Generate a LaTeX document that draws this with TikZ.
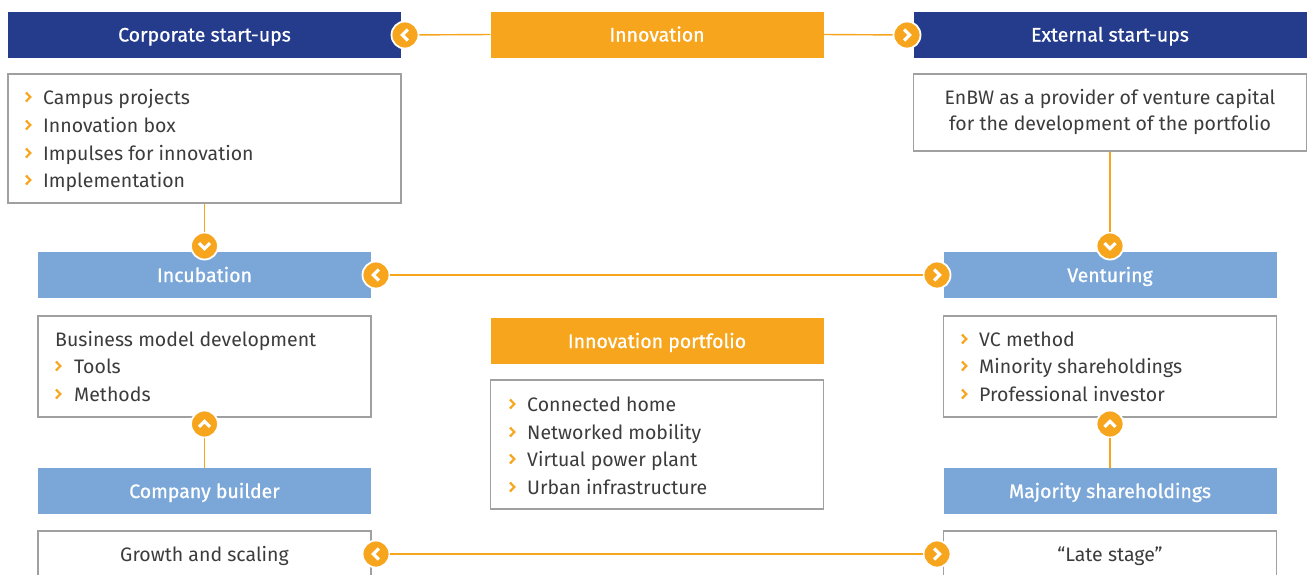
\documentclass[tikz,border=0pt]{standalone}
\usepackage{fontspec}
\setmainfont{Fira Sans}
\newfontfamily\hdrfont[FakeBold=0.8]{Fira Sans}
\definecolor{navy}{HTML}{253C8C}
\definecolor{orng}{HTML}{F7A51C}
\definecolor{lblue}{HTML}{7BA7D8}
\definecolor{txt}{HTML}{3C3C3C}
\definecolor{bord}{HTML}{A0A0A0}
\begin{document}
\begin{tikzpicture}[x=1pt,y=-1pt,
  hdr/.style={minimum height=46pt, inner sep=0pt, text=white, text height=14pt, text depth=0pt,
    font=\hdrfont\fontsize{19.5}{22}\selectfont},
  bx/.style={draw=bord, line width=1.3pt, fill=white, inner sep=0pt},
  itm/.style={anchor=base west, inner sep=0pt, text=txt, font=\fontsize{19.5}{22}\selectfont},
  mk/.style={circle, fill=orng, draw=white, line width=1.8pt, minimum size=27pt, inner sep=0pt},
  conn/.style={orng, line width=1.4pt},
  chv/.pic={\draw[orng, line width=2.2pt] (-2,-4.5)--(2.3,0)--(-2,4.5);},
  la/.pic={\draw[white, line width=3.2pt] (2.8,-5.5)--(-2.6,0)--(2.8,5.5);},
  ra/.pic={\draw[white, line width=3.2pt] (-2.8,-5.5)--(2.6,0)--(-2.8,5.5);},
  da/.pic={\draw[white, line width=3.2pt] (-5.5,-2.8)--(0,2.6)--(5.5,-2.8);},
  ua/.pic={\draw[white, line width=3.2pt] (-5.5,2.8)--(0,-2.6)--(5.5,2.8);}
]
\clip (0,0) rectangle (1311,574);
\fill[white] (0,0) rectangle (1311,574);

% top headers
\node[hdr, fill=navy, minimum width=393pt] (cs) at (204.5,34.5) {Corporate start-ups};
\node[hdr, fill=orng, minimum width=333pt] (inn) at (657,34.5) {Innovation};
\node[hdr, fill=navy, minimum width=393pt] (es) at (1110,34.5) {External start-ups};

% top boxes
\node[bx, minimum width=393pt, minimum height=77pt] (csb) at (204.5,138.5) [minimum height=129pt] {};
\node[bx, minimum width=393pt, minimum height=77pt] (esb) at (1110,112.5) {};
\node[anchor=center, inner sep=0pt, text=txt, align=center, font=\fontsize{19.5}{26}\selectfont] (est) at (1110,111.5)
  {EnBW as a provider of venture capital\\for the development of the portfolio};

\pic at (28,97) {chv};
\node[itm] (c1) at (43,104.5) {Campus projects};
\pic at (28,125) {chv};
\node[itm] (c2) at (43,132.5) {Innovation box};
\pic at (28,153) {chv};
\node[itm] (c3) at (43,160.5) {Impulses for innovation};
\pic at (28,180) {chv};
\node[itm] (c4) at (43,187.5) {Implementation};

% middle headers
\node[hdr, fill=lblue, minimum width=333pt] (inc) at (204.5,275) {Incubation};
\node[hdr, fill=lblue, minimum width=333pt] (ven) at (1110,275) {Venturing};

% middle boxes
\node[bx, minimum width=333pt, minimum height=101pt] (incb) at (204.5,366.5) {};
\node[itm] (i1) at (55,346.5) {Business model development};
\pic at (58,366) {chv};
\node[itm] (i2) at (74,373.5) {Tools};
\pic at (58,394) {chv};
\node[itm] (i3) at (74,401.5) {Methods};

\node[bx, minimum width=333pt, minimum height=101pt] (venb) at (1110,366.5) {};
\pic at (964,339) {chv};
\node[itm] (v1) at (979,346.5) {VC method};
\pic at (964,366) {chv};
\node[itm] (v2) at (979,373.5) {Minority shareholdings};
\pic at (964,394) {chv};
\node[itm] (v3) at (979,401.5) {Professional investor};

% innovation portfolio
\node[hdr, fill=orng, minimum width=333pt] (ip) at (657,341) {Innovation portfolio};
\node[bx, minimum width=333pt, minimum height=129pt] (ipb) at (657,444.5) {};
\pic at (512,404) {chv};
\node[itm] (p1) at (527,411.5) {Connected home};
\pic at (512,432) {chv};
\node[itm] (p2) at (527,439.5) {Networked mobility};
\pic at (512,459) {chv};
\node[itm] (p3) at (527,466.5) {Virtual power plant};
\pic at (512,487) {chv};
\node[itm] (p4) at (527,494.5) {Urban infrastructure};

% bottom headers
\node[hdr, fill=lblue, minimum width=333pt] (cb) at (204.5,491) {Company builder};
\node[hdr, fill=lblue, minimum width=333pt] (ms) at (1110,491) {Majority shareholdings};

% bottom boxes
\node[bx, minimum width=333pt, minimum height=80pt] (gb) at (204.5,571) {};
\node[itm, anchor=base] (g1) at (204.5,561.5) {Growth and scaling};
\node[bx, minimum width=333pt, minimum height=80pt] (lb) at (1110,571) {};
\node[itm, anchor=base] (l1) at (1110,561.5) {“Late stage”};

% markers
\node[mk] (m1) at (405,35) {}; \pic at (m1) {la};
\node[mk] (m2) at (907,35) {}; \pic at (m2) {ra};
\node[mk] (m3) at (204.5,246) {}; \pic at (m3) {da};
\node[mk] (m4) at (1110,246) {}; \pic at (m4) {da};
\node[mk] (m5) at (376,275) {}; \pic at (m5) {la};
\node[mk] (m6) at (937,275) {}; \pic at (m6) {ra};
\node[mk] (m7) at (204.5,424) {}; \pic at (m7) {ua};
\node[mk] (m8) at (1110,424) {}; \pic at (m8) {ua};
\node[mk] (m9) at (376,554) {}; \pic at (m9) {la};
\node[mk] (m10) at (937,554) {}; \pic at (m10) {ra};

% connectors
\draw[conn] (m1) -- (inn.west);
\draw[conn] (inn.east) -- (m2);
\draw[conn] (csb.south) -- (m3);
\draw[conn] (esb.south) -- (m4);
\draw[conn] (m5) -- (m6);
\draw[conn] (m7) -- (cb.north);
\draw[conn] (m8) -- (ms.north);
\draw[conn] (m9) -- (m10);
\end{tikzpicture}
\end{document}
